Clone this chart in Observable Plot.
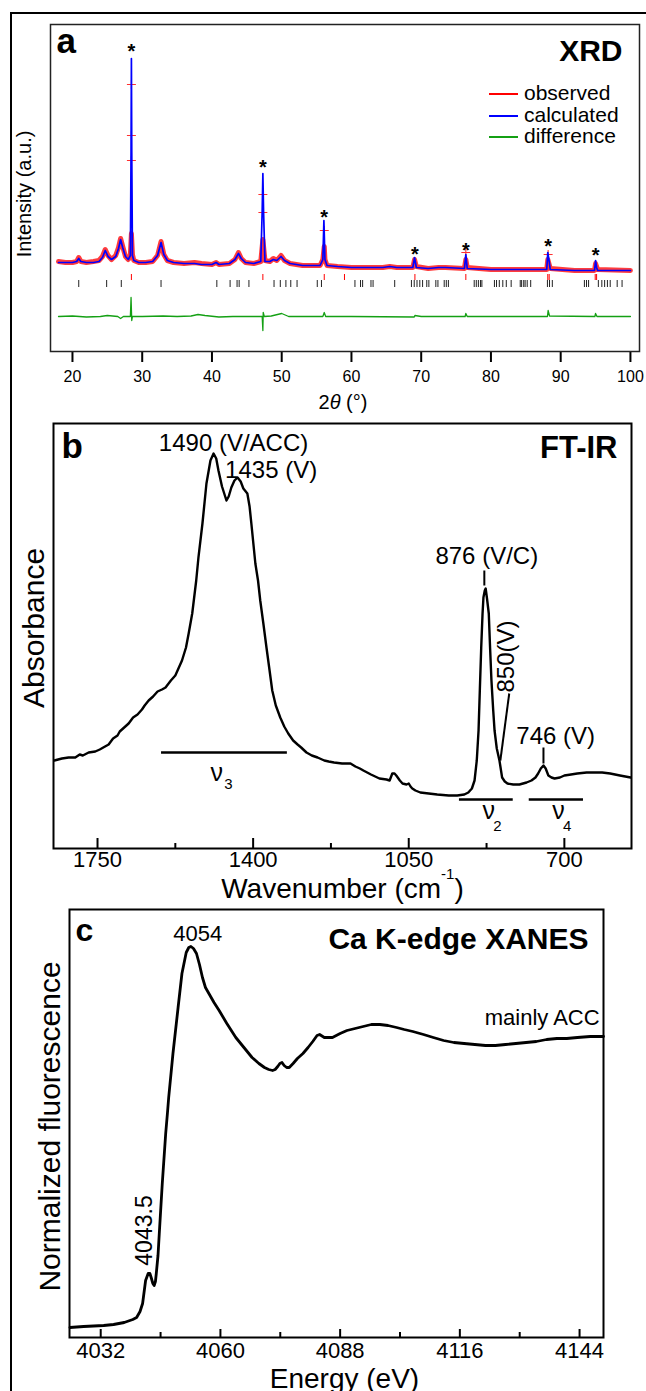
<!DOCTYPE html>
<html><head><meta charset="utf-8">
<script src="https://cdn.jsdelivr.net/npm/d3@7"></script>
<script src="https://cdn.jsdelivr.net/npm/@observablehq/plot@0.6"></script>
<style>
html,body{margin:0;padding:0;background:#fff;width:646px;height:1391px;overflow:hidden;position:relative;font-family:"Liberation Sans",Arial,Helvetica,sans-serif;}
.panel{position:absolute;left:0;}
#border{position:absolute;left:10px;top:12px;width:700px;height:1500px;border:2px solid #000;box-sizing:border-box;}
.leg{position:absolute;font-size:21px;line-height:21px;white-space:nowrap;color:#000;}
.legline{position:absolute;height:2px;width:29px;}
</style></head><body>
<div id="border"></div>
<div id="pa" class="panel" style="top:0px"></div>
<div id="pb" class="panel" style="top:400px"></div>
<div id="pc" class="panel" style="top:890px"></div>
<div id="legend"></div>
<script>
const FONT = "Liberation Sans, Arial, Helvetica, sans-serif";

// ---------- Panel a: XRD (2theta, intensity a.u.) ----------
const xrdCalculated = [[18.0,89],[19.0,89],[20.0,89],[20.6,90],[20.9,93],[21.2,90],[22.0,89],[23.0,89],[23.8,90],[24.3,94],
 [24.7,101],[25.1,95],[25.6,92],[26.2,95],[26.6,103],[26.9,112],[27.2,104],[27.6,95],[28.0,92],[28.3,96],
 [28.4,200],[28.45,293],[28.5,200],[28.6,96],[28.8,91],[29.5,89],[30.5,89],[31.5,90],[32.2,96],[32.7,109],
 [33.1,97],[33.6,91],[34.5,89],[36.0,88],[37.5,88],[38.5,87],[40.0,87],[40.6,89],[41.0,87],[42.5,88],
 [43.3,92],[43.8,98],[44.2,93],[44.8,89],[46.0,88],[47.0,90],[47.2,140],[47.3,178],[47.4,140],[47.6,90],
 [48.3,90],[48.8,92],[49.3,91],[49.9,95],[50.4,91],[51.2,88],[53.0,86],[55.5,86],[55.9,92],[56.05,131],
 [56.2,92],[56.5,86],[58.0,85],[60.0,84],[62.0,84],[64.5,84],[65.5,85],[66.5,84],[68.8,84],[69.05,94],
 [69.3,84],[71.0,83],[72.5,84],[73.5,84],[76.2,83],[76.4,97],[76.6,83],[80.0,82],[85.0,82],[88.0,82],
 [88.15,99],[88.35,90],[88.5,82],[92.0,81],[94.85,81],[95.0,91],[95.15,84],[95.3,81],[100.0,81]];
const xrdObserved = [[18.0,90],[19.0,89],[20.0,89],[20.6,90],[20.9,94],[21.2,90],[22.0,89],[23.0,90],[23.8,91],[24.3,95],
 [24.7,102],[25.1,96],[25.6,92],[26.2,96],[26.6,104],[26.9,113],[27.2,105],[27.6,95],[28.0,92],[28.3,97],
 [28.45,118],[28.6,97],[28.8,91],[29.5,89],[30.5,89],[31.5,90],[32.2,96],[32.7,110],[33.1,97],[33.6,91],
 [34.5,89],[36.0,88],[37.5,89],[38.5,88],[40.0,87],[40.6,89],[41.0,87],[42.5,88],[43.3,92],[43.8,99],
 [44.2,93],[44.8,89],[46.0,88],[47.0,90],[47.3,112],[47.6,91],[48.3,90],[48.8,93],[49.3,91],[49.9,96],
 [50.4,91],[51.2,88],[53.0,86],[55.5,86],[55.9,92],[56.1,105],[56.2,92],[56.5,86],[58.0,85],[60.0,84],
 [62.0,84],[64.5,84],[65.5,85],[66.5,84],[68.8,84],[69.05,92],[69.3,85],[71.0,83],[72.5,84],[73.5,84],
 [76.2,83],[76.4,92],[76.6,84],[80.0,82],[85.0,82],[88.0,82],[88.15,92],[88.5,83],[92.0,81],[94.85,81],
 [95.0,88],[95.3,82],[100.0,81]];
const xrdObservedSpikes = [[28.45,267],[28.45,216],[28.45,191],[47.3,157],[47.3,139],[56.1,121],[76.4,99],[88.2,97]];
const xrdDifference = [[18.0,35],[20.0,35.5],[21.0,35],[22.0,34.5],[24.0,35],[25.0,36],[26.5,35],[26.9,33],[27.3,35],[28.3,35],
 [28.4,54],[28.5,31],[28.6,35],[30.0,35],[33.0,35.5],[35.0,35],[37.0,35.5],[38.0,37],[39.0,36],[41.0,34.5],
 [43.0,35],[46.0,35],[47.2,35],[47.3,21],[47.35,39],[47.5,35],[48.5,35.5],[50.0,38],[51.0,35],[55.9,35],
 [56.1,39],[56.3,35],[60.0,35],[69.0,34.5],[69.1,36],[70.0,35],[76.3,35],[76.4,38],[76.6,35],[88.1,35],
 [88.2,41],[88.4,35.5],[94.9,35],[95.0,38],[95.2,35],[100.0,35]];
const braggMain = [20.9,24.9,27.0,32.7,40.7,42.6,43.6,43.9,45.3,48.9,49.8,50.6,51.3,52.2,55.1,55.7,60.5,61.3,61.6,62.8,
 63.1,66.2,68.6,69.0,69.4,69.8,70.2,70.8,71.1,72.1,72.4,73.3,73.6,73.9,77.6,77.9,78.2,78.5,78.7,80.5,80.8,81.2,
 81.7,82.2,82.9,84.2,84.4,84.7,84.9,85.2,85.7,88.1,88.4,88.8,93.4,93.7,94.0,95.4,95.9,96.3,96.7,97.1,98.1,98.8];
const braggSecond = [28.45,47.3,56.1,59.0,69.1,76.4,88.15,88.35,94.95,95.15];
const starPeaks = [[28.45,294],[47.3,178],[56.1,128],[69.1,91],[76.4,95],[88.2,99],[95.0,90]];
const xrdTicks = [20,30,40,50,60,70,80,90,100];
const legendLabels = ["observed","calculated","difference"];
const legendColors = ["#ff0000","#0000ff","#14a014"];

// ---------- Panel b: FT-IR (wavenumber, absorbance a.u.) ----------
const irSpectrum = [[1847,88],[1830,90],[1815,91],[1800,91],[1790,94],[1783,93],[1770,96],[1755,97],[1745,99],[1737,101],
 [1725,104],[1715,110],[1705,113],[1700,117],[1690,121],[1680,125],[1670,131],[1660,134],[1650,139],[1644,143],
 [1635,148],[1625,152],[1615,157],[1605,159],[1597,161],[1585,168],[1575,173],[1570,178],[1560,188],[1551,201],
 [1545,215],[1537,235],[1528,268],[1523,291],[1514,325],[1505,365],[1496,388],[1489,395],[1483,390],[1478,378],
 [1470,362],[1460,348],[1455,352],[1449,361],[1442,368],[1435,371],[1428,367],[1422,360],[1413,355],[1408,342],
 [1404,325],[1395,285],[1389,268],[1384,248],[1377,225],[1370,201],[1363,178],[1357,158],[1349,143],[1339,131],
 [1330,122],[1321,115],[1310,108],[1300,104],[1292,101],[1280,96],[1268,93],[1255,91],[1240,88],[1230,87],
 [1218,86],[1200,85],[1181,85],[1170,82],[1160,80],[1152,78],[1135,74],[1116,70],[1100,69],[1093,68],
 [1087,75],[1082,75],[1078,73],[1070,68],[1064,65],[1055,64],[1050,65],[1046,62],[1042,60],[1035,58],
 [1024,56],[1005,55],[986,54],[960,53],[941,53],[925,54],[916,56],[908,60],[902,68],[897,88],
 [893,118],[890,160],[887,201],[884,235],[882,251],[879,258],[877,260],[874,250],[870,235],[867,200],
 [864,168],[860,138],[857,118],[852,100],[846,88],[840,71],[834,67],[828,65],[815,64],[801,64],
 [785,66],[774,68],[765,71],[759,75],[753,80],[747,83],[742,80],[736,73],[729,71],[722,70],
 [710,71],[700,73],[685,74],[671,75],[650,76],[635,76],[615,76],[597,75],[575,73],[551,71]];
const irMajor = [1750,1400,1050,700];
const irMinor = [1575,1225,875];
const irNotes = [{w:1612,v:398,label:"1490 (V/ACC)"},{w:1463,v:371,label:"1435 (V)"},{w:990,v:285,label:"876 (V/C)"},{w:808,v:105,label:"746 (V)"}];
const irRotNotes = [{w:830,v:192,label:"850(V)"}];
const irLeaders = [{w1:824,v1:155,w2:844,v2:88},{w1:747,v1:101,w2:747,v2:85},{w1:880,v1:278,w2:880,v2:263}];
const irBands = [{from:1606,to:1323,v:96},{from:936,to:815,v:49},{from:779,to:657,v:49}];
const irModes = [{w:1496,v:68,ws:1465,vs:60,sub:"3"},{w:884,v:30,ws:860,vs:18,sub:"2"},{w:727,v:30,ws:703,vs:18,sub:"4"}];

// ---------- Panel c: Ca K-edge XANES (energy eV, normalized fluorescence) ----------
const xanes = [[4024.8,10],[4028,11],[4032.7,12],[4035,13],[4037.5,15],[4039.5,18],[4040.4,20],[4041.2,26],[4041.8,34],[4042.5,57],
 [4043.1,64],[4043.5,64],[4043.8,60],[4044.2,54],[4044.5,52],[4044.8,56],[4045.0,64],[4045.4,82],[4045.7,104],[4046.4,154],
 [4047.2,204],[4047.6,224],[4047.9,240],[4048.9,284],[4050.1,330],[4051.0,364],[4052.0,385],[4052.6,390],[4053.1,391],[4053.7,389],
 [4054.4,384],[4055.1,373],[4055.8,360],[4056.5,350],[4057.3,344],[4058.5,335],[4059.7,327],[4061.5,314],[4063.6,300],[4065.5,290],
 [4067.4,280],[4069,274],[4070.3,270],[4071.3,268],[4072.2,267],[4072.8,268],[4073.4,271],[4073.9,274],[4074.4,275],[4074.9,272],
 [4075.5,270],[4076.1,270],[4077,274],[4078.0,279],[4079.3,284],[4080.5,290],[4081.6,296],[4082.6,302],[4083.2,303],[4084.3,300],
 [4085.3,300],[4086.2,300],[4088,304],[4089.6,307],[4091.5,309],[4093.4,311],[4095.3,313],[4097.3,313],[4099.2,312],[4101.2,310],
 [4103,308],[4105.0,306],[4107.5,303],[4109.8,300],[4112.2,297],[4114.6,295],[4117,294],[4119.5,293],[4122,292],[4124.3,292],
 [4126.7,293],[4129.1,294],[4131.5,295],[4133.9,296],[4136.3,298],[4138.7,299],[4141,299],[4143.5,300],[4146.5,301],[4149.6,301]];
const xanesMajor = [4032,4060,4088,4116,4144];
const xanesMinor = [4046,4074,4102,4130];
const xanesPeakNotes = [{e:4054.7,v:397,label:"4054"}];
const xanesEndNotes = [{e:4148.7,v:313,label:"mainly ACC"}];
const xanesRotNotes = [{e:4042.3,v:107,label:"4043.5"}];

// ---------- helpers ----------
const pts = arr => arr.map(([x,v]) => ({x, v}));
function richText(svg, match, parts) {
  svg.querySelectorAll("text").forEach(t => {
    if (t.textContent === match) {
      t.textContent = "";
      for (const p of parts) {
        const s = document.createElementNS("http://www.w3.org/2000/svg", "tspan");
        s.textContent = p.text;
        for (const [k, val] of Object.entries(p.attrs || {})) s.setAttribute(k, val);
        t.appendChild(s);
      }
    }
  });
}
const label = (txt, o) => Plot.text([txt], {text: d => d, ...o});

// ---------- Panel a ----------
const plotA = Plot.plot({
  width: 646, height: 420, marginTop: 24, marginBottom: 69, marginLeft: 50, marginRight: 7,
  style: {fontFamily: FONT, fontSize: "16px", background: "transparent", overflow: "visible", color: "#000"},
  x: {domain: [16.85, 101.3], ticks: xrdTicks, tickSize: 0, tickPadding: 19, tickFormat: d => String(d), label: null},
  y: {domain: [0, 327], axis: null},
  marks: [
    Plot.line(pts(xrdObserved), {x: "x", y: "v", stroke: "#ff1a1a", strokeWidth: 5, strokeOpacity: 0.85}),
    Plot.dot(pts(xrdObservedSpikes), {x: "x", y: "v", symbol: "plus", r: 3, stroke: "#ff3030", strokeWidth: 1.1}),
    Plot.line(pts(xrdCalculated), {x: "x", y: "v", stroke: "#0000ff", strokeWidth: 1.7}),
    Plot.line(pts(xrdDifference), {x: "x", y: "v", stroke: "#14a014", strokeWidth: 1.3}),
    Plot.ruleX(braggMain, {y1: 64, y2: 71, stroke: "#222", strokeWidth: 1}),
    Plot.ruleX(braggSecond, {y1: 71, y2: 77, stroke: "#ff0000", strokeWidth: 1}),
    Plot.text(pts(starPeaks), {x: "x", y: "v", text: () => "*", fontSize: 20, fontWeight: "bold", lineAnchor: "bottom"}),
    Plot.ruleX(xrdTicks, {y1: 0, y2: -11, stroke: "#000", strokeWidth: 2}),
    Plot.frame({stroke: "#222", strokeWidth: 1.5}),
    label("a", {frameAnchor: "top-left", dx: 6, dy: 28, fontSize: 35, fontWeight: "bold", textAnchor: "start", lineAnchor: "bottom"}),
    label("XRD", {frameAnchor: "top-right", dx: -17, dy: 36, fontSize: 30, fontWeight: "bold", textAnchor: "end", lineAnchor: "bottom"}),
    label("2θ (°)", {frameAnchor: "bottom", dx: -2, dy: 57, fontSize: 20, textAnchor: "middle", lineAnchor: "bottom"}),
    label("Intensity (a.u.)", {frameAnchor: "left", rotate: -90, dx: -26, dy: 6, fontSize: 20, textAnchor: "middle", lineAnchor: "middle"})
  ]
});
richText(plotA, "2θ (°)", [{text: "2"}, {text: "θ", attrs: {"font-style": "italic"}}, {text: " (°)"}]);
document.getElementById("pa").appendChild(plotA);

// legend (HTML)
const leg = document.getElementById("legend");
const legBase = [100, 122, 143];
const legLine = [93, 115, 136];
legendLabels.forEach((name, i) => {
  const l = document.createElement("div");
  l.className = "legline";
  l.style.left = "489px"; l.style.top = legLine[i] + "px"; l.style.background = legendColors[i];
  leg.appendChild(l);
  const t = document.createElement("div");
  t.className = "leg";
  t.style.left = "524px"; t.style.top = (legBase[i] - 17.8) + "px";
  t.textContent = name;
  leg.appendChild(t);
});

// ---------- Panel b ----------
const plotB = Plot.plot({
  width: 646, height: 480, marginTop: 23, marginBottom: 32, marginLeft: 53, marginRight: 15,
  style: {fontFamily: FONT, fontSize: "22px", background: "transparent", overflow: "visible", color: "#000"},
  x: {domain: [1849, 549], ticks: irMajor, tickSize: 0, tickPadding: 3, tickFormat: d => String(d), label: null},
  y: {domain: [0, 425], axis: null},
  marks: [
    Plot.line(pts(irSpectrum), {x: "x", y: "v", stroke: "#000", strokeWidth: 2.4, strokeLinejoin: "round"}),
    Plot.ruleY(irBands, {x1: "from", x2: "to", y: "v", stroke: "#000", strokeWidth: 2.5}),
    Plot.link(irLeaders, {x1: "w1", y1: "v1", x2: "w2", y2: "v2", stroke: "#000", strokeWidth: 2}),
    Plot.text(irNotes, {x: "w", y: "v", text: "label", fontSize: 24, textAnchor: "start", lineAnchor: "bottom"}),
    Plot.text(irRotNotes, {x: "w", y: "v", text: "label", fontSize: 24, rotate: -90, textAnchor: "middle", lineAnchor: "middle"}),
    Plot.text(irModes, {x: "w", y: "v", text: () => "ν", fontSize: 25, textAnchor: "start", lineAnchor: "bottom"}),
    Plot.text(irModes, {x: "ws", y: "vs", text: "sub", fontSize: 15, textAnchor: "start", lineAnchor: "bottom"}),
    Plot.ruleX(irMajor, {y1: 0, y2: 10, stroke: "#000", strokeWidth: 2}),
    Plot.ruleX(irMinor, {y1: 0, y2: 5, stroke: "#000", strokeWidth: 2}),
    Plot.frame({stroke: "#000", strokeWidth: 2}),
    label("b", {frameAnchor: "top-left", dx: 8, dy: 34, fontSize: 35, fontWeight: "bold", textAnchor: "start", lineAnchor: "bottom"}),
    label("FT-IR", {frameAnchor: "top-right", dx: -14, dy: 34, fontSize: 31, fontWeight: "bold", textAnchor: "end", lineAnchor: "bottom"}),
    label("Wavenumber (cm-1)", {frameAnchor: "bottom", dx: 0, dy: 49, fontSize: 28, textAnchor: "middle", lineAnchor: "bottom"}),
    label("Absorbance", {frameAnchor: "left", rotate: -90, dx: -19, dy: -8, fontSize: 30, textAnchor: "middle", lineAnchor: "middle"})
  ]
});
richText(plotB, "Wavenumber (cm-1)", [{text: "Wavenumber (cm"}, {text: "-1", attrs: {"font-size": "15", dy: "-19"}}, {text: ")", attrs: {dy: "19"}}]);
document.getElementById("pb").appendChild(plotB);

// ---------- Panel c ----------
const plotC = Plot.plot({
  width: 646, height: 501, marginTop: 19, marginBottom: 54, marginLeft: 69, marginRight: 43,
  style: {fontFamily: FONT, fontSize: "22px", background: "transparent", overflow: "visible", color: "#000"},
  x: {domain: [4024.7, 4149.6], ticks: xanesMajor, tickSize: 0, tickPadding: 5, tickFormat: d => String(d), label: null},
  y: {domain: [0, 428], axis: null},
  marks: [
    Plot.line(pts(xanes), {x: "x", y: "v", stroke: "#000", strokeWidth: 2.8, strokeLinejoin: "round"}),
    Plot.text(xanesPeakNotes, {x: "e", y: "v", text: "label", fontSize: 22, textAnchor: "middle", lineAnchor: "bottom"}),
    Plot.text(xanesEndNotes, {x: "e", y: "v", text: "label", fontSize: 22, textAnchor: "end", lineAnchor: "bottom"}),
    Plot.text(xanesRotNotes, {x: "e", y: "v", text: "label", fontSize: 23, rotate: -90, textAnchor: "middle", lineAnchor: "middle"}),
    Plot.ruleX(xanesMajor, {y1: 0, y2: 8, stroke: "#000", strokeWidth: 2}),
    Plot.ruleX(xanesMinor, {y1: 0, y2: 5, stroke: "#000", strokeWidth: 2}),
    Plot.frame({stroke: "#000", strokeWidth: 2}),
    label("c", {frameAnchor: "top-left", dx: 6, dy: 31, fontSize: 32, fontWeight: "bold", textAnchor: "start", lineAnchor: "bottom"}),
    label("Ca K-edge XANES", {frameAnchor: "top-right", dx: -15, dy: 39, fontSize: 30, fontWeight: "bold", textAnchor: "end", lineAnchor: "bottom"}),
    label("Energy (eV)", {frameAnchor: "bottom", dx: 8, dy: 50, fontSize: 28, textAnchor: "middle", lineAnchor: "bottom"}),
    label("Normalized fluorescence", {frameAnchor: "left", rotate: -90, dx: -19, dy: 3, fontSize: 30, textAnchor: "middle", lineAnchor: "middle"})
  ]
});
document.getElementById("pc").appendChild(plotC);
</script>
</body></html>
